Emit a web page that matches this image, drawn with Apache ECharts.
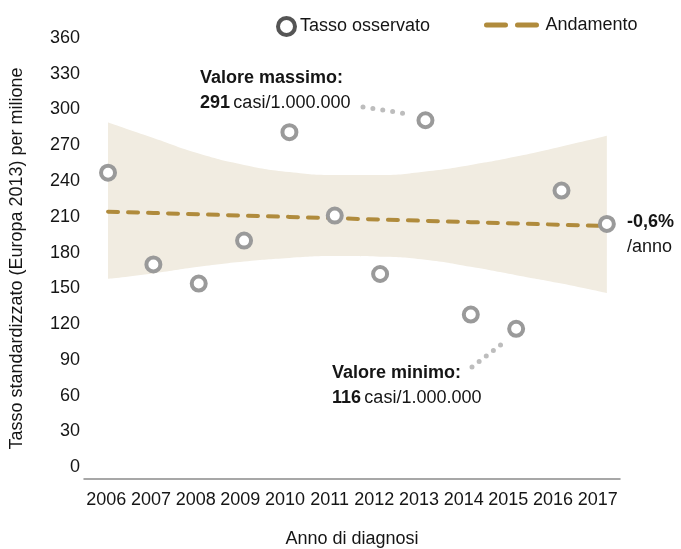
<!DOCTYPE html>
<html>
<head>
<meta charset="utf-8">
<script src="https://cdn.jsdelivr.net/npm/echarts@6/dist/echarts.min.js"></script>
<style>html,body{margin:0;padding:0;background:#fff;}#c{width:681px;height:549px;}</style>
</head>
<body>
<div id="c"></div>
<script>
var years = [2006, 2007, 2008, 2009, 2010, 2011, 2012, 2013, 2014, 2015, 2016, 2017];
var observed = [247, 170, 154, 190, 281, 211, 162, 291, 128, 116, 232, 204];
var trend = [214.3, 213.2, 212.1, 211.0, 209.9, 208.8, 207.7, 206.6, 205.5, 204.4, 203.3, 202.2];
var upper = [289, 276, 263, 253.5, 247.5, 245, 245, 248, 253.5, 260.5, 269, 278];
var lower = [158, 162.5, 168, 172.5, 175.5, 177, 176.5, 174, 168, 161, 154, 146];
var yTicks = [0, 30, 60, 90, 120, 150, 180, 210, 240, 270, 300, 330, 360];
var annualChange = '-0,6%';

var FONT = "'Liberation Sans', Arial, sans-serif";
var FS = 18;
var TXT = '#151515';
var GOLD = '#b08b3c';
var BAND = '#f1ece1';
var GREY = '#9a9a9a';

function pairs(vals) { return years.map(function (y, i) { return [y, vals[i]]; }); }
// value first so that stacking acts on the value dimension
function vpairs(vals) { return years.map(function (y, i) { return [vals[i], y]; }); }
var bandDiff = upper.map(function (u, i) { return u - lower[i]; });
var maxV = Math.max.apply(null, observed);
var minV = Math.min.apply(null, observed);

var rich = {
  b: { fontFamily: FONT, fontSize: FS, fontWeight: 'bold', fill: TXT, lineHeight: 25 },
  n: { fontFamily: FONT, fontSize: FS, fill: TXT, lineHeight: 25 }
};

var chart = echarts.init(document.getElementById('c'));
chart.setOption({
  animation: false,
  textStyle: { fontFamily: FONT },
  grid: { left: 84, right: 61, top: 38, bottom: 70, containLabel: false, outerBoundsMode: 'none' },
  legend: [
    {
      left: 276, top: 16, padding: 0, itemWidth: 17, itemHeight: 17,
      textStyle: { fontFamily: FONT, fontSize: FS, color: TXT },
      data: [{ name: 'Tasso osservato', icon: 'circle',
        itemStyle: { color: '#fff', borderColor: '#555', borderWidth: 4 } }]
    },
    {
      left: 484, top: 16, padding: 0, itemWidth: 54, itemHeight: 17,
      textStyle: { fontFamily: FONT, fontSize: FS, color: TXT },
      data: [{ name: 'Andamento',
        itemStyle: { color: 'rgba(0,0,0,0)', borderWidth: 0, opacity: 0 },
        lineStyle: { color: GOLD, width: 5, type: [19, 12], cap: 'round' } }]
    }
  ],
  xAxis: [
    {
      type: 'category', data: years, boundaryGap: true,
      axisLine: { show: true, onZero: false, lineStyle: { color: '#8a8a8a', width: 1.5 } },
      axisTick: { show: false },
      axisLabel: { fontFamily: FONT, fontSize: FS, color: TXT, margin: 12, interval: 0 },
      name: 'Anno di diagnosi', nameLocation: 'middle', nameGap: 51,
      nameTextStyle: { fontFamily: FONT, fontSize: FS, color: TXT }
    },
    {
      type: 'value', min: 2005.47, max: 2017.29, show: false, position: 'bottom',
      axisLine: { onZero: false }
    }
  ],
  yAxis: {
    type: 'value', min: -10, max: 360,
    axisLine: { show: false, onZero: false }, axisTick: { show: false }, splitLine: { show: false },
    axisLabel: { fontFamily: FONT, fontSize: FS, color: TXT, margin: 4, customValues: yTicks },
    name: 'Tasso standardizzato (Europa 2013) per milione', nameLocation: 'middle', nameGap: 58,
    nameTextStyle: { fontFamily: FONT, fontSize: FS, color: TXT }
  },
  series: [
    {
      name: 'lowerBand', type: 'line', xAxisIndex: 1, stack: 'ci', smooth: true,
      dimensions: ['v', 'yr'], encode: { x: 'yr', y: 'v' },
      data: vpairs(lower), symbol: 'none', lineStyle: { width: 0, opacity: 0 }, silent: true, z: 1
    },
    {
      name: 'band', type: 'line', xAxisIndex: 1, stack: 'ci', smooth: true,
      dimensions: ['v', 'yr'], encode: { x: 'yr', y: 'v' },
      data: vpairs(bandDiff), symbol: 'none', lineStyle: { width: 0, opacity: 0 },
      areaStyle: { color: BAND, opacity: 1 }, silent: true, z: 1
    },
    {
      name: 'Andamento', type: 'line', xAxisIndex: 1, data: pairs(trend), symbol: 'none',
      lineStyle: { color: GOLD, width: 4, type: [10, 10], cap: 'round' }, z: 2
    },
    {
      name: 'Tasso osservato', type: 'scatter', xAxisIndex: 1, data: pairs(observed),
      symbol: 'circle', symbolSize: 14,
      itemStyle: { color: '#fff', borderColor: GREY, borderWidth: 4, opacity: 1 }, z: 3
    }
  ],
  graphic: [
    {
      type: 'text', left: 200, top: 69,
      style: { text: '{b|Valore massimo:}\n{b|' + maxV + '} {n|casi/1.000.000}', rich: rich }
    },
    {
      type: 'text', left: 332, top: 364,
      style: { text: '{b|Valore minimo:}\n{b|' + minV + '} {n|casi/1.000.000}', rich: rich }
    },
    {
      type: 'text', left: 627, top: 213,
      style: { text: '{b|' + annualChange + '}\n{n|/anno}', rich: rich }
    },
    {
      type: 'polyline', shape: { points: [[363, 107], [408, 114]] },
      style: { stroke: '#bdbdbd', lineWidth: 5, lineDash: [0, 10], lineCap: 'round', fill: null }
    },
    {
      type: 'polyline', shape: { points: [[472, 367], [507, 340]] },
      style: { stroke: '#bdbdbd', lineWidth: 5, lineDash: [0, 9], lineCap: 'round', fill: null }
    }
  ]
});
</script>
</body>
</html>
